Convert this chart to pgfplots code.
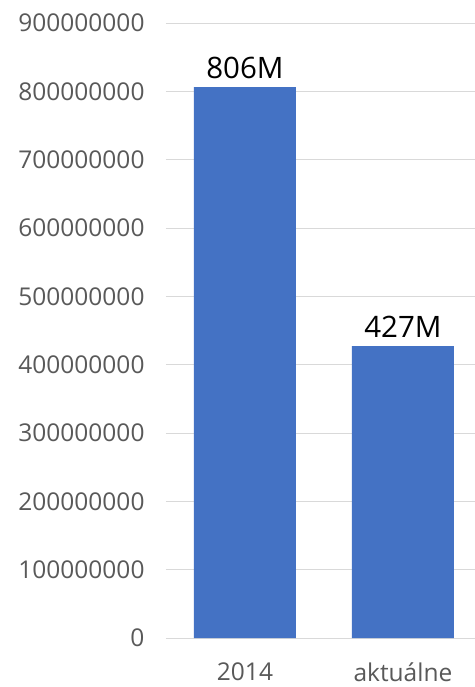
\documentclass[border=0pt]{standalone}
\usepackage{fontspec}
\setmainfont{Open Sans}
\usepackage{pgfplots}
\pgfplotsset{compat=1.18}
\definecolor{barblue}{HTML}{4472C4}
\definecolor{ticklab}{HTML}{595959}
\definecolor{gridc}{HTML}{D9D9D9}
\begin{document}
\begin{tikzpicture}
\useasboundingbox (-166bp,-49bp) rectangle (309bp,638bp);
\begin{axis}[
  at={(0,0)}, anchor=south west,
  scale only axis,
  width=309bp, height=615bp,
  xmin=-0.5, xmax=1.456,
  ymin=0, ymax=900000000,
  ytick={0,100000000,...,900000000},
  xtick={0,1}, xticklabels={2014, aktuálne},
  scaled y ticks=false,
  /pgf/number format/assume math mode=true,
  yticklabel style={/pgf/number format/fixed,/pgf/number format/1000 sep={},
    font=\fontsize{24.5bp}{28bp}\selectfont, text=ticklab, xshift=-18bp},
  xticklabel style={font=\fontsize{24.5bp}{28bp}\selectfont, text=ticklab, yshift=-21bp},
  axis line style={draw=none},
  major tick style={draw=none},
  ymajorgrids, major grid style={gridc, line width=1bp},
  clip=false,
]
\addplot[ybar, bar width=102bp, fill=barblue, draw=none,
  point meta=explicit symbolic, nodes near coords,
  every node near coord/.append style={font=\fontsize{29.5bp}{32bp}\selectfont, text=black, yshift=5bp}]
  coordinates {(0,806000000) [806M] (1,427000000) [427M]};
\end{axis}
\end{tikzpicture}
\end{document}
